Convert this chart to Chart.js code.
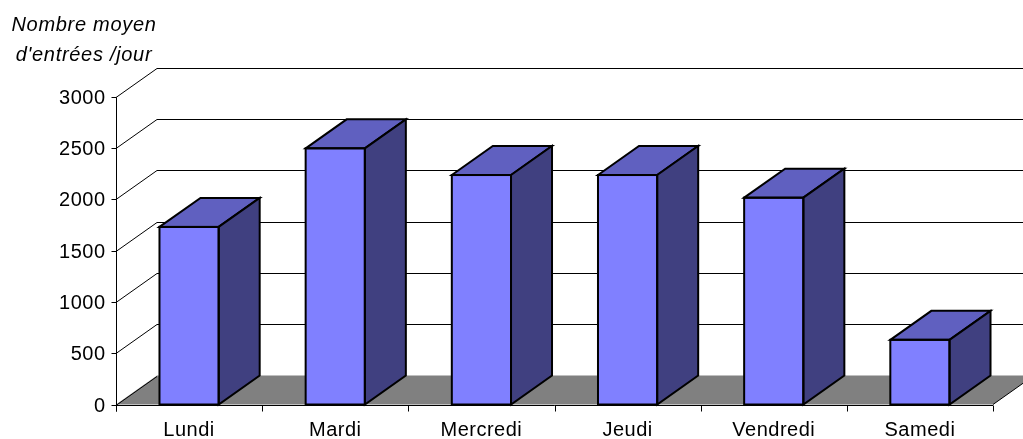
<!DOCTYPE html>
<html>
<head>
<meta charset="utf-8">
<script src="https://cdn.jsdelivr.net/npm/chart.js@4.4.0/dist/chart.umd.min.js"></script>
<style>
html, body { margin:0; padding:0; background:#fff; overflow:hidden; }
#wrap { width:1023px; height:439px; }
</style>
</head>
<body>
<div id="wrap"><canvas id="myChart" width="1023" height="439"></canvas></div>
<script>
var days = ["Lundi", "Mardi", "Mercredi", "Jeudi", "Vendredi", "Samedi"];
var entries = [1730, 2495, 2235, 2235, 2015, 630];
var yTicks = [0, 500, 1000, 1500, 2000, 2500, 3000];
var titleLines = ["Nombre moyen", "d'entrées /jour"];

// depth of the fake 3d box
var DX = 41, DY = -29;
var labelFont = "20px 'Liberation Sans', Arial, sans-serif";

var box3d = {
    id: "box3d",
    beforeDatasetsDraw: function(chart) {
        var ctx = chart.ctx, a = chart.chartArea;
        var ys = chart.scales.y;
        ctx.save();
        // floor
        var y0 = ys.getPixelForValue(0);
        ctx.fillStyle = "#808080";
        ctx.beginPath();
        ctx.moveTo(a.left, y0);
        ctx.lineTo(a.left + DX, y0 + DY);
        ctx.lineTo(a.right + DX, y0 + DY);
        ctx.lineTo(a.right, y0);
        ctx.closePath();
        ctx.fill();
        ctx.strokeStyle = "#000";
        ctx.lineWidth = 1;
        ctx.beginPath();
        ctx.moveTo(a.right, y0);
        ctx.lineTo(a.right + DX, y0 + DY);
        ctx.stroke();
        // back wall grid
        yTicks.forEach(function(v) {
            var y = Math.round(ys.getPixelForValue(v)) + 0.5;
            ctx.beginPath();
            ctx.moveTo(a.left, y);
            ctx.lineTo(a.left + DX, y + DY);
            if (v > 0) ctx.lineTo(chart.width, y + DY);
            ctx.stroke();
        });
        ctx.restore();
    },
    afterDatasetsDraw: function(chart) {
        var ctx = chart.ctx;
        var meta = chart.getDatasetMeta(0);
        ctx.save();
        ctx.lineWidth = 2;
        ctx.lineJoin = "miter";
        ctx.strokeStyle = "#000";
        meta.data.forEach(function(bar) {
            var p = bar.getProps(["x", "y", "base", "width"], true);
            var L = p.x - p.width / 2, R = p.x + p.width / 2, T = p.y, B = p.base;
            // top
            ctx.fillStyle = "#6060C0";
            ctx.beginPath();
            ctx.moveTo(L, T);
            ctx.lineTo(L + DX, T + DY);
            ctx.lineTo(R + DX, T + DY);
            ctx.lineTo(R, T);
            ctx.closePath();
            ctx.fill();
            ctx.stroke();
            // side
            ctx.fillStyle = "#404080";
            ctx.beginPath();
            ctx.moveTo(R, T);
            ctx.lineTo(R + DX, T + DY);
            ctx.lineTo(R + DX, B + DY);
            ctx.lineTo(R, B);
            ctx.closePath();
            ctx.fill();
            ctx.stroke();
            // front outline
            ctx.strokeRect(L, T, R - L, B - T);
        });
        ctx.restore();
    },
    afterDraw: function(chart) {
        var ctx = chart.ctx, a = chart.chartArea;
        var ys = chart.scales.y, xs = chart.scales.x;
        var y0 = Math.round(ys.getPixelForValue(0)) + 0.5;
        var xl = Math.round(a.left) + 0.5;
        ctx.save();
        ctx.strokeStyle = "#000";
        ctx.lineWidth = 1;
        // value axis
        ctx.beginPath();
        ctx.moveTo(xl, Math.round(ys.getPixelForValue(3000)) + 0.5);
        ctx.lineTo(xl, y0 + 6);
        ctx.stroke();
        ctx.fillStyle = "#000";
        ctx.font = labelFont;
        ctx.letterSpacing = "0.5px";
        ctx.textAlign = "right";
        ctx.textBaseline = "middle";
        yTicks.forEach(function(v) {
            var y = Math.round(ys.getPixelForValue(v)) + 0.5;
            ctx.beginPath();
            ctx.moveTo(xl - 5, y);
            ctx.lineTo(xl, y);
            ctx.stroke();
            ctx.fillText(String(v), xl - 11, y + 1);
        });
        // category axis
        ctx.beginPath();
        ctx.moveTo(xl, y0);
        ctx.lineTo(a.right, y0);
        ctx.stroke();
        var step = (a.right - a.left) / days.length;
        for (var k = 0; k <= days.length; k++) {
            var tx = Math.round(a.left + k * step) + 0.5;
            ctx.beginPath();
            ctx.moveTo(tx, y0);
            ctx.lineTo(tx, y0 + 6);
            ctx.stroke();
        }
        ctx.textAlign = "center";
        ctx.textBaseline = "alphabetic";
        days.forEach(function(d, i) {
            ctx.fillText(d, xs.getPixelForValue(i), 436);
        });
        // title
        ctx.font = "italic 20px 'Liberation Sans', Arial, sans-serif";
        ctx.letterSpacing = "0.7px";
        ctx.fillText(titleLines[0], 84, 31);
        ctx.fillText(titleLines[1], 84, 61);
        ctx.restore();
    }
};

var cx = document.getElementById("myChart");
var myChart = new Chart(cx, {
    type: "bar",
    data: {
        labels: days,
        datasets: [{
            label: "Nombre moyen d'entrées /jour",
            data: entries,
            backgroundColor: "#8080FF",
            borderWidth: 0,
            categoryPercentage: 1,
            barPercentage: 0.405
        }]
    },
    options: {
        responsive: false,
        animation: false,
        devicePixelRatio: 1,
        layout: { padding: { left: 116, right: 30, top: 96.5, bottom: 34.5 } },
        plugins: { legend: { display: false }, tooltip: { enabled: false } },
        scales: {
            x: { display: false },
            y: { display: false, min: 0, max: 3000 }
        }
    },
    plugins: [box3d]
});
</script>
</body>
</html>
